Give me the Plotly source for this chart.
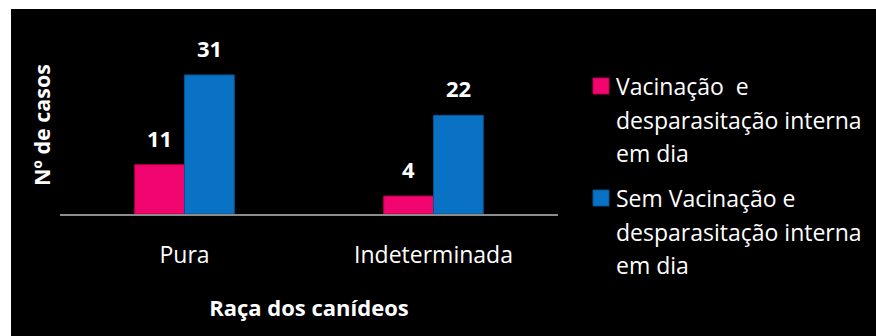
import plotly.graph_objects as go

# Dados do gráfico
racas = ["Pura", "Indeterminada"]
series_nomes = ["Vacinação  e desparasitação interna em dia",
                "Sem Vacinação e desparasitação interna em dia"]
legenda_linhas = [["Vacinação  e", "desparasitação interna", "em dia"],
                  ["Sem Vacinação e", "desparasitação interna", "em dia"]]
vacinados = [11, 4]
nao_vacinados = [31, 22]

cores = ["#F2056E", "#0A72C4"]
bordas = ["#B8004F", "#05528F"]
FONTE = "Open Sans"

# geometria da área de desenho (pixels)
W, H = 876, 336
L, R, T, B = 60, 318, 57, 122
PW, PH = W - L - R, H - T - B
YMAX = 35


def px_x(px):
    return (px - L) / PW


def px_y(py):
    return (H - B - py) / PH


fig = go.Figure()
for nome, vals, cor, borda in zip(series_nomes, [vacinados, nao_vacinados], cores, bordas):
    fig.add_trace(go.Bar(
        x=racas, y=vals, name=nome,
        marker=dict(color=cor, line=dict(color=borda, width=1)),
        hoverinfo="x+y",
    ))

annotations = []
# rótulos de valor por cima das barras
for offset, vals in zip([-25, 25], [vacinados, nao_vacinados]):
    for cat, v in zip(racas, vals):
        annotations.append(dict(
            x=cat, y=v, xref="x", yref="y", text=str(v), showarrow=False,
            xshift=offset, yanchor="bottom", yshift=10,
            font=dict(family=FONTE, size=22, color="white", weight="bold"),
        ))

# título do eixo vertical
annotations.append(dict(
    x=px_x(41), y=px_y(125), xref="paper", yref="paper", text="Nº de casos",
    textangle=-90, showarrow=False, xanchor="center", yanchor="middle",
    font=dict(family=FONTE, size=21.5, color="white", weight="bold"),
))

# legenda desenhada à direita
shapes = [dict(type="rect", xref="paper", yref="paper", layer="below",
               x0=px_x(11), x1=px_x(W), y0=px_y(H), y1=px_y(9),
               fillcolor="black", line=dict(width=0))]
legend_y0 = [86, 198]
for linhas, y0, cor, borda in zip(legenda_linhas, legend_y0, cores, bordas):
    shapes.append(dict(type="rect", xref="paper", yref="paper",
                       x0=px_x(593), x1=px_x(609), y0=px_y(y0 + 8), y1=px_y(y0 - 8),
                       fillcolor=cor, line=dict(color=borda, width=1)))
    for i, txt in enumerate(linhas):
        annotations.append(dict(
            x=px_x(614), y=px_y(y0 + 33.5 * i), xref="paper", yref="paper",
            text=txt, showarrow=False, xanchor="left", yanchor="middle",
            font=dict(family=FONTE, size=23, color="white"),
        ))

fig.update_layout(
    width=W, height=H,
    margin=dict(l=L, r=R, t=T, b=B, pad=0),
    paper_bgcolor="white", plot_bgcolor="black",
    barmode="group", bargap=0.6, bargroupgap=0,
    showlegend=False,
    xaxis=dict(
        showline=True, linecolor="#8C8C8C", linewidth=2,
        showgrid=False, zeroline=False, ticks="",
        ticklabelstandoff=19,
        tickfont=dict(family=FONTE, size=23, color="white"),
        title=dict(text="Raça dos canídeos", standoff=32,
                   font=dict(family=FONTE, size=22, color="white", weight="bold")),
        fixedrange=True,
    ),
    yaxis=dict(range=[0, YMAX], visible=False, fixedrange=True),
    annotations=annotations,
    shapes=shapes,
)

fig.write_html("out.html")
